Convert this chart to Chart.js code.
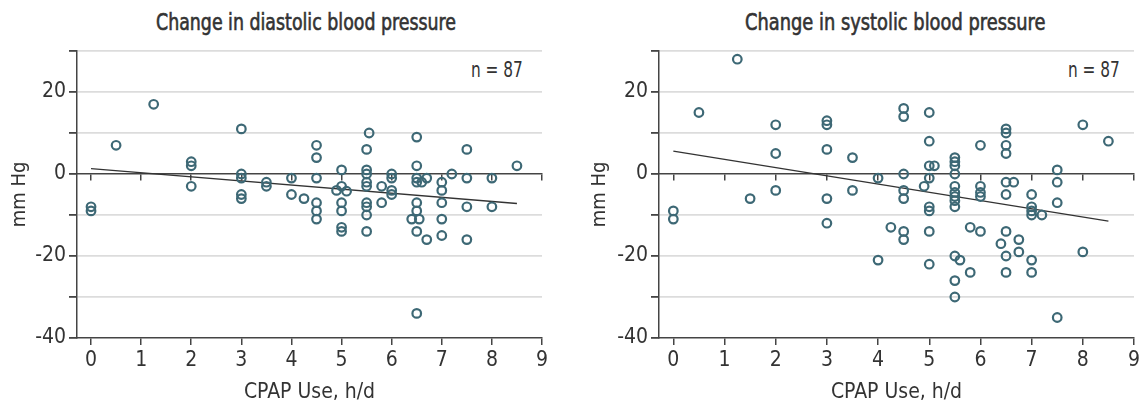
<!DOCTYPE html>
<html>
<head>
<meta charset="utf-8">
<script src="https://cdn.jsdelivr.net/npm/chart.js@4.4.1/dist/chart.umd.min.js"></script>
<style>
  body { margin: 0; width: 1145px; height: 410px; background: #fff; position: relative; overflow: hidden; }
  canvas { position: absolute; top: 0; }
  .ttl { position: absolute; top: 9px; font: 23px 'DejaVu Sans Condensed', 'DejaVu Sans', sans-serif; -webkit-text-stroke: 0.6px #333; color: #333; white-space: nowrap; transform-origin: 0 0; }
  .n { position: absolute; top: 58px; font: 21px 'DejaVu Sans Condensed', 'DejaVu Sans', sans-serif; color: #333; white-space: nowrap; transform-origin: 0 0; }
</style>
</head>
<body>
<div class="ttl" data-x="156" data-w="300">Change in diastolic blood pressure</div>
<div class="ttl" data-x="745" data-w="300">Change in systolic blood pressure</div>
<div class="n" data-x="471" data-w="52">n = 87</div>
<div class="n" data-x="1068" data-w="52">n = 87</div>
<canvas id="dia" width="570" height="410" style="left:0"></canvas>
<canvas id="sys" width="575" height="410" style="left:570px"></canvas>
<script>
// CPAP hours / change in diastolic BP (mm Hg)
const diaHours = [0, 0, 0.5, 1.25, 2, 2, 2, 3, 3, 3, 3, 3, 3.5, 3.5, 4, 4, 4.25,
  4.5, 4.5, 4.5, 4.5, 4.5, 4.5, 5, 5, 4.9, 5.1, 5, 5, 5, 5,
  5.55, 5.5, 5.5, 5.5, 5.5, 5.5, 5.5, 5.5, 5.5, 5.5, 5.8, 5.8, 6, 6, 6, 6,
  6.5, 6.5, 6.5, 6.5, 6.6, 6.7, 6.5, 6.5, 6.4, 6.55, 6.5, 6.7, 6.5,
  7, 7, 7, 7, 7, 7.2, 7.5, 7.5, 7.5, 7.5, 8, 8, 8.5];
const diaChange = [-8, -9, 7, 17, 3, 2, -3, 11, 0, -1, -5, -6, -2, -3, -1, -5, -6,
  7, 4, -1, -7, -9, -11, 1, -3, -4, -4.2, -7, -9, -13, -14,
  10, 6, 1, 0, -2, -3, -7, -8, -10, -14, -3, -7, 0, -1, -4, -5,
  9, 2, -1, -2, -2, -1, -7, -9, -11, -11, -14, -16, -34,
  -2, -4, -7, -11, -15, 0, 6, -1, -8, -16, -1, -8, 2];

// CPAP hours / change in systolic BP (mm Hg)
const sysHours = [0, 0, 0.5, 1.25, 1.5, 2, 2, 2, 3, 3, 3, 3, 3, 3.5, 3.5, 4, 4, 4.25,
  4.5, 4.5, 4.5, 4.5, 4.5, 4.5, 4.5, 4.9, 5, 5, 5, 5.1, 5, 5, 5, 5, 5,
  5.5, 5.5, 5.5, 5.5, 5.5, 5.5, 5.5, 5.5, 5.5, 5.5, 5.6, 5.5, 5.5, 5.8, 5.8,
  6, 6, 6, 6, 6, 6.5, 6.5, 6.5, 6.5, 6.5, 6.65, 6.5, 6.5, 6.4, 6.75, 6.75, 6.5, 6.5,
  7, 7, 7, 7, 7.2, 7, 7, 7.5, 7.5, 7.5, 7.5, 8, 8, 8.5];
const sysChange = [-9, -11, 15, 28, -6, 12, 5, -4, 13, 12, 6, -6, -12, 4, -4, -1, -21, -13,
  16, 14, 0, -4, -6, -14, -16, -3, 15, 8, 2, 2, -1, -8, -9, -14, -22,
  4, 3, 2, 0, -3, -4.5, -5.5, -6.5, -8, -20, -21, -26, -30, -13, -24,
  7, -3, -4.5, -5.5, -14, 11, 10, 7, 5, -2, -2, -5, -14, -17, -16, -19, -20, -24,
  -5, -8, -9, -10, -10, -21, -24, 1, -2, -7, -35, 12, -19, 8];

// fitted regression lines (end points)
const fitHours = [0, 8.5];
const diaFit = [1.3, -7.2];
const sysFit = [5.6, -11.5];

const xTicks = [0, 1, 2, 3, 4, 5, 6, 7, 8, 9];
const yLabels = [-40, -20, 0, 20];

const FONT = "'DejaVu Sans Condensed', 'DejaVu Sans', sans-serif";
const AXIS = '#444';

// squeeze the html labels to the narrow face used in the original
document.querySelectorAll('.ttl, .n').forEach(el => {
  const k = +el.dataset.w / el.offsetWidth;
  el.style.left = el.dataset.x + 'px';
  el.style.transform = 'scaleX(' + k + ')';
});

function pts(xs, ys) {
  return xs.map((x, i) => ({ x: x, y: ys[i] }));
}

function makeChart(id, hours, change, fit, axisWidth, titlePad, padRight) {
  const ctx = document.getElementById(id).getContext('2d');
  return new Chart(ctx, {
    type: 'scatter',
    data: {
      datasets: [{
        data: pts(hours, change),
        pointStyle: 'circle',
        pointRadius: 4.3,
        pointBorderWidth: 2.2,
        borderColor: '#3d6875',
        backgroundColor: 'rgba(0,0,0,0)',
      }, {
        data: pts(fitHours, fit),
        showLine: true,
        borderColor: '#333',
        borderWidth: 1.3,
        pointRadius: 0,
      }],
    },
    options: {
      animation: false,
      responsive: false,
      layout: { padding: { left: 0, top: 51, right: padRight, bottom: 0 } },
      plugins: { legend: { display: false }, tooltip: { enabled: false } },
      scales: {
        x: {
          type: 'linear',
          position: 'bottom',
          min: -0.28,
          max: 9,
          afterBuildTicks: (s) => { s.ticks = xTicks.map(v => ({ value: v })); },
          afterFit: (s) => { s.height = 72; },
          border: { color: AXIS, width: 1.5 },
          grid: { drawOnChartArea: false, tickLength: 7, color: AXIS, lineWidth: 1.5 },
          ticks: { color: '#333', padding: 3, font: { family: FONT, size: 21 } },
          title: { display: true, text: 'CPAP Use, h/d', color: '#333', padding: { bottom: 5 }, font: { family: FONT, size: 21 } },
        },
        x0: {
          type: 'linear',
          position: { y: 0 },
          min: -0.28,
          max: 9,
          afterBuildTicks: (s) => { s.ticks = xTicks.map(v => ({ value: v })); },
          border: { color: AXIS, width: 1.5 },
          grid: { drawOnChartArea: false, tickLength: 6, color: AXIS, lineWidth: 1.5 },
          ticks: { display: false },
        },
        y: {
          min: -40,
          max: 30,
          afterFit: (s) => { s.width = axisWidth; },
          border: { color: AXIS, width: 1.5 },
          grid: {
            color: (c) => (c.tick && (c.tick.value === 0 || c.tick.value === -40)) ? 'rgba(0,0,0,0)' : '#dcdcdc',
            tickColor: AXIS,
            lineWidth: 1.8,
            tickLength: 8,
          },
          ticks: {
            stepSize: 10,
            padding: 3,
            color: '#333',
            font: { family: FONT, size: 21 },
            callback: (v) => yLabels.includes(v) ? String(v) : '',
          },
          title: { display: true, text: 'mm Hg', color: '#333', padding: { top: titlePad }, font: { family: FONT, size: 20 } },
        },
      },
    },
  });
}

makeChart('dia', diaHours, diaChange, diaFit, 77, 8, 28);
makeChart('sys', sysHours, sysChange, sysFit, 89, 18, 11);
</script>
</body>
</html>
